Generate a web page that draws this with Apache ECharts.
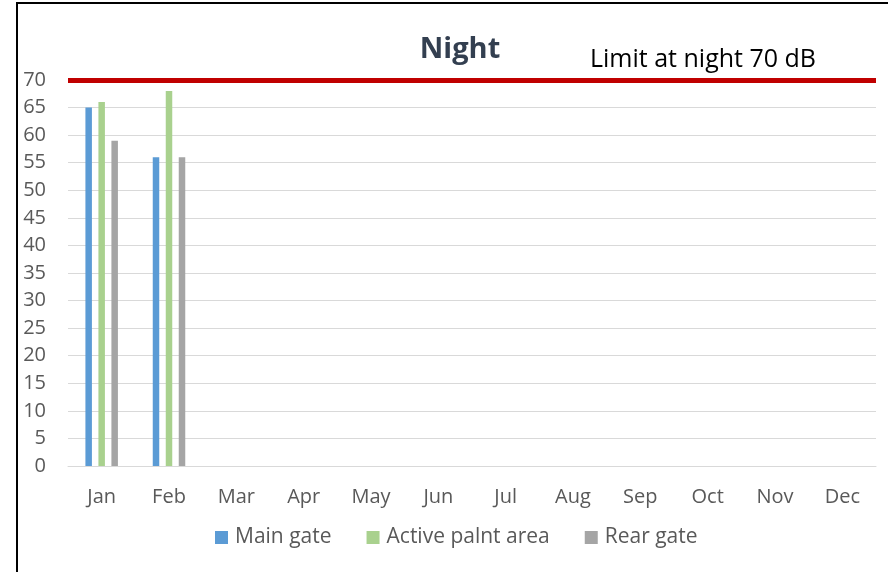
<!DOCTYPE html>
<html><head><meta charset="utf-8">
<script src="https://cdn.jsdelivr.net/npm/echarts@6/dist/echarts.min.js"></script>
<style>html,body{margin:0;padding:0;background:#fff;}#c{width:888px;height:572px;}</style>
</head><body><div id="c"></div>
<script>
const months = ['Jan','Feb','Mar','Apr','May','Jun','Jul','Aug','Sep','Oct','Nov','Dec'];
const mainGate = [65, 56, null, null, null, null, null, null, null, null, null, null];
const activePlant = [66, 68, null, null, null, null, null, null, null, null, null, null];
const rearGate = [59, 56, null, null, null, null, null, null, null, null, null, null];
const nightLimit = 70;
const yTicks = {min: 0, max: 70, interval: 5};

const chart = echarts.init(document.getElementById('c'));
const font = '"Open Sans", Lato, sans-serif';
chart.setOption({
  animation: false,
  title: [{
    text: 'Night', left: 455, top: 30, textAlign: 'center',
    textStyle: {fontFamily: font, fontSize: 29, fontWeight: 'bold', color: '#333F50'}
  }, {
    text: 'Limit at night ' + nightLimit + ' dB', left: 585, top: 42,
    textStyle: {fontFamily: font, fontSize: 25, fontWeight: 'normal', color: '#000'}
  }],
  graphic: [{
    type: 'rect', shape: {x: 17, y: 3, width: 1000, height: 1000},
    style: {fill: 'none', stroke: '#000', lineWidth: 2}, silent: true
  }],
  legend: {
    top: 522, left: 210,
    itemWidth: 13, itemHeight: 13, itemGap: 35,
    icon: 'rect',
    textStyle: {fontFamily: font, fontSize: 21, color: '#595959', padding: [0, 0, 0, 2]},
    data: ['Main gate', 'Active palnt area', 'Rear gate']
  },
  grid: {left: 68, right: 12, top: 80, bottom: 106, containLabel: false},
  xAxis: {
    type: 'category', data: months,
    axisLine: {lineStyle: {color: '#D9D9D9'}},
    axisTick: {show: false},
    axisLabel: {fontFamily: font, fontSize: 20, color: '#595959', margin: 21}
  },
  yAxis: {
    type: 'value', min: yTicks.min, max: yTicks.max, interval: yTicks.interval,
    axisLine: {show: false}, axisTick: {show: false},
    axisLabel: {fontFamily: font, fontSize: 20, color: '#595959', margin: 22},
    splitLine: {lineStyle: {color: '#D9D9D9', width: 1}}
  },
  series: [{
    name: 'Main gate', type: 'bar', data: mainGate, barWidth: 6.5, barGap: '100%',
    itemStyle: {color: '#5B9BD5'},
    markLine: {
      silent: true, symbol: 'none', label: {show: false},
      lineStyle: {color: '#C00000', width: 5, type: 'solid'},
      data: [{yAxis: nightLimit}]
    }
  }, {
    name: 'Active palnt area', type: 'bar', data: activePlant, barWidth: 6.5, barGap: '100%',
    itemStyle: {color: '#A9D18E'}
  }, {
    name: 'Rear gate', type: 'bar', data: rearGate, barWidth: 6.5, barGap: '100%',
    itemStyle: {color: '#A5A5A5'}
  }]
});
</script></body></html>
